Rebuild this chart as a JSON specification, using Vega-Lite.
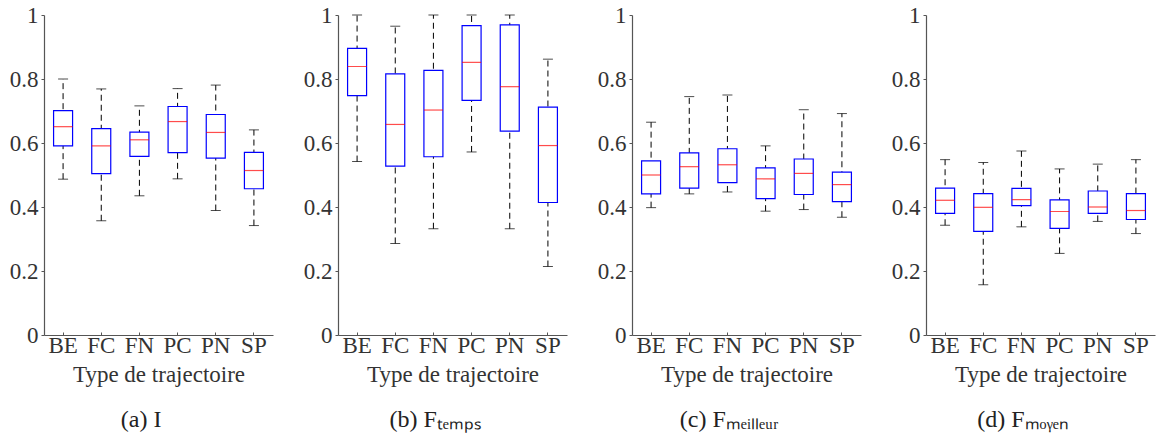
{
  "$schema": "https://vega.github.io/schema/vega-lite/v6.json",
  "background": "white",
  "padding": {"left": 9, "top": 4, "right": 3, "bottom": 3},
  "spacing": 65,
  "bounds": "flush",
  "datasets": {
    "boxes": [
      {"panel": "a", "type": "BE", "lo": 0.487, "q1": 0.591, "med": 0.651, "q3": 0.701, "hi": 0.800},
      {"panel": "a", "type": "FC", "lo": 0.357, "q1": 0.504, "med": 0.591, "q3": 0.645, "hi": 0.769},
      {"panel": "a", "type": "FN", "lo": 0.435, "q1": 0.558, "med": 0.610, "q3": 0.634, "hi": 0.716},
      {"panel": "a", "type": "PC", "lo": 0.488, "q1": 0.570, "med": 0.667, "q3": 0.714, "hi": 0.770},
      {"panel": "a", "type": "PN", "lo": 0.389, "q1": 0.553, "med": 0.633, "q3": 0.689, "hi": 0.781},
      {"panel": "a", "type": "SP", "lo": 0.342, "q1": 0.457, "med": 0.514, "q3": 0.571, "hi": 0.641},
      {"panel": "b", "type": "BE", "lo": 0.542, "q1": 0.748, "med": 0.839, "q3": 0.896, "hi": 1.0},
      {"panel": "b", "type": "FC", "lo": 0.286, "q1": 0.528, "med": 0.658, "q3": 0.816, "hi": 0.965},
      {"panel": "b", "type": "FN", "lo": 0.332, "q1": 0.557, "med": 0.703, "q3": 0.827, "hi": 1.0},
      {"panel": "b", "type": "PC", "lo": 0.572, "q1": 0.733, "med": 0.852, "q3": 0.967, "hi": 1.0},
      {"panel": "b", "type": "PN", "lo": 0.332, "q1": 0.637, "med": 0.776, "q3": 0.969, "hi": 1.0},
      {"panel": "b", "type": "SP", "lo": 0.214, "q1": 0.414, "med": 0.592, "q3": 0.712, "hi": 0.862},
      {"panel": "c", "type": "BE", "lo": 0.398, "q1": 0.441, "med": 0.500, "q3": 0.544, "hi": 0.665},
      {"panel": "c", "type": "FC", "lo": 0.441, "q1": 0.459, "med": 0.526, "q3": 0.569, "hi": 0.745},
      {"panel": "c", "type": "FN", "lo": 0.447, "q1": 0.476, "med": 0.532, "q3": 0.582, "hi": 0.750},
      {"panel": "c", "type": "PC", "lo": 0.387, "q1": 0.426, "med": 0.488, "q3": 0.522, "hi": 0.591},
      {"panel": "c", "type": "PN", "lo": 0.392, "q1": 0.439, "med": 0.505, "q3": 0.550, "hi": 0.704},
      {"panel": "c", "type": "SP", "lo": 0.368, "q1": 0.417, "med": 0.470, "q3": 0.509, "hi": 0.692},
      {"panel": "d", "type": "BE", "lo": 0.343, "q1": 0.380, "med": 0.421, "q3": 0.459, "hi": 0.548},
      {"panel": "d", "type": "FC", "lo": 0.157, "q1": 0.324, "med": 0.399, "q3": 0.442, "hi": 0.539},
      {"panel": "d", "type": "FN", "lo": 0.338, "q1": 0.404, "med": 0.423, "q3": 0.458, "hi": 0.575},
      {"panel": "d", "type": "PC", "lo": 0.255, "q1": 0.333, "med": 0.386, "q3": 0.422, "hi": 0.519},
      {"panel": "d", "type": "PN", "lo": 0.355, "q1": 0.380, "med": 0.400, "q3": 0.450, "hi": 0.534},
      {"panel": "d", "type": "SP", "lo": 0.317, "q1": 0.361, "med": 0.389, "q3": 0.442, "hi": 0.548}
    ]
  },
  "hconcat": [
    {
      "data": {"name": "boxes"},
      "transform": [{"filter": "datum.panel === 'a'"}],
      "width": 229, "height": 320,
      "title": {"text": "(a) I", "orient": "bottom"},
      "encoding": {"x": {"field": "type", "type": "nominal", "title": "Type de trajectoire", "scale": {"paddingInner": 0, "paddingOuter": 0}}},
      "layer": [
        {"mark": {"type": "rule", "color": "black", "strokeDash": [6, 4], "strokeWidth": 1}, "encoding": {"y": {"field": "lo", "type": "quantitative", "scale": {"domain": [0, 1]}, "axis": {"values": [0, 0.2, 0.4, 0.6, 0.8, 1], "format": "~g"}, "title": null}, "y2": {"field": "hi"}}},
        {"mark": {"type": "tick", "color": "black", "size": 10, "thickness": 1}, "encoding": {"y": {"field": "lo", "type": "quantitative"}}},
        {"mark": {"type": "tick", "color": "black", "size": 10, "thickness": 1}, "encoding": {"y": {"field": "hi", "type": "quantitative"}}},
        {"mark": {"type": "bar", "fill": "white", "stroke": "#0000ff", "strokeWidth": 1.2, "width": 19}, "encoding": {"y": {"field": "q1", "type": "quantitative"}, "y2": {"field": "q3"}}},
        {"mark": {"type": "tick", "color": "#ff0000", "size": 19, "thickness": 1.2}, "encoding": {"y": {"field": "med", "type": "quantitative"}}}
      ]
    },
    {
      "data": {"name": "boxes"},
      "transform": [{"filter": "datum.panel === 'b'"}],
      "width": 229, "height": 320,
      "title": {"text": "(b) Fₜₑₘₚₛ", "orient": "bottom"},
      "encoding": {"x": {"field": "type", "type": "nominal", "title": "Type de trajectoire", "scale": {"paddingInner": 0, "paddingOuter": 0}}},
      "layer": [
        {"mark": {"type": "rule", "color": "black", "strokeDash": [6, 4], "strokeWidth": 1}, "encoding": {"y": {"field": "lo", "type": "quantitative", "scale": {"domain": [0, 1]}, "axis": {"values": [0, 0.2, 0.4, 0.6, 0.8, 1], "format": "~g"}, "title": null}, "y2": {"field": "hi"}}},
        {"mark": {"type": "tick", "color": "black", "size": 10, "thickness": 1}, "encoding": {"y": {"field": "lo", "type": "quantitative"}}},
        {"mark": {"type": "tick", "color": "black", "size": 10, "thickness": 1}, "encoding": {"y": {"field": "hi", "type": "quantitative"}}},
        {"mark": {"type": "bar", "fill": "white", "stroke": "#0000ff", "strokeWidth": 1.2, "width": 19}, "encoding": {"y": {"field": "q1", "type": "quantitative"}, "y2": {"field": "q3"}}},
        {"mark": {"type": "tick", "color": "#ff0000", "size": 19, "thickness": 1.2}, "encoding": {"y": {"field": "med", "type": "quantitative"}}}
      ]
    },
    {
      "data": {"name": "boxes"},
      "transform": [{"filter": "datum.panel === 'c'"}],
      "width": 229, "height": 320,
      "title": {"text": "(c) Fₘₑᵢₗₗₑᵤᵣ", "orient": "bottom"},
      "encoding": {"x": {"field": "type", "type": "nominal", "title": "Type de trajectoire", "scale": {"paddingInner": 0, "paddingOuter": 0}}},
      "layer": [
        {"mark": {"type": "rule", "color": "black", "strokeDash": [6, 4], "strokeWidth": 1}, "encoding": {"y": {"field": "lo", "type": "quantitative", "scale": {"domain": [0, 1]}, "axis": {"values": [0, 0.2, 0.4, 0.6, 0.8, 1], "format": "~g"}, "title": null}, "y2": {"field": "hi"}}},
        {"mark": {"type": "tick", "color": "black", "size": 10, "thickness": 1}, "encoding": {"y": {"field": "lo", "type": "quantitative"}}},
        {"mark": {"type": "tick", "color": "black", "size": 10, "thickness": 1}, "encoding": {"y": {"field": "hi", "type": "quantitative"}}},
        {"mark": {"type": "bar", "fill": "white", "stroke": "#0000ff", "strokeWidth": 1.2, "width": 19}, "encoding": {"y": {"field": "q1", "type": "quantitative"}, "y2": {"field": "q3"}}},
        {"mark": {"type": "tick", "color": "#ff0000", "size": 19, "thickness": 1.2}, "encoding": {"y": {"field": "med", "type": "quantitative"}}}
      ]
    },
    {
      "data": {"name": "boxes"},
      "transform": [{"filter": "datum.panel === 'd'"}],
      "width": 229, "height": 320,
      "title": {"text": "(d) Fₘₒᵧₑₙ", "orient": "bottom"},
      "encoding": {"x": {"field": "type", "type": "nominal", "title": "Type de trajectoire", "scale": {"paddingInner": 0, "paddingOuter": 0}}},
      "layer": [
        {"mark": {"type": "rule", "color": "black", "strokeDash": [6, 4], "strokeWidth": 1}, "encoding": {"y": {"field": "lo", "type": "quantitative", "scale": {"domain": [0, 1]}, "axis": {"values": [0, 0.2, 0.4, 0.6, 0.8, 1], "format": "~g"}, "title": null}, "y2": {"field": "hi"}}},
        {"mark": {"type": "tick", "color": "black", "size": 10, "thickness": 1}, "encoding": {"y": {"field": "lo", "type": "quantitative"}}},
        {"mark": {"type": "tick", "color": "black", "size": 10, "thickness": 1}, "encoding": {"y": {"field": "hi", "type": "quantitative"}}},
        {"mark": {"type": "bar", "fill": "white", "stroke": "#0000ff", "strokeWidth": 1.2, "width": 19}, "encoding": {"y": {"field": "q1", "type": "quantitative"}, "y2": {"field": "q3"}}},
        {"mark": {"type": "tick", "color": "#ff0000", "size": 19, "thickness": 1.2}, "encoding": {"y": {"field": "med", "type": "quantitative"}}}
      ]
    }
  ],
  "config": {
    "view": {"stroke": null},
    "font": "Liberation Serif",
    "axis": {
      "grid": false,
      "labelFont": "Liberation Serif",
      "titleFont": "Liberation Serif",
      "labelFontSize": 23,
      "titleFontSize": 23,
      "titleFontWeight": "normal",
      "labelColor": "#333333",
      "titleColor": "#333333",
      "domainColor": "#555555",
      "tickColor": "#555555",
      "domainWidth": 1.2
    },
    "axisX": {"labelAngle": 0, "tickSize": -3, "labelPadding": 2, "titlePadding": 6},
    "axisY": {"tickSize": 3, "labelPadding": 3},
    "title": {"font": "Liberation Serif", "fontSize": 24, "fontWeight": "normal", "color": "#222222", "offset": 22, "frame": "bounds"}
  }
}
